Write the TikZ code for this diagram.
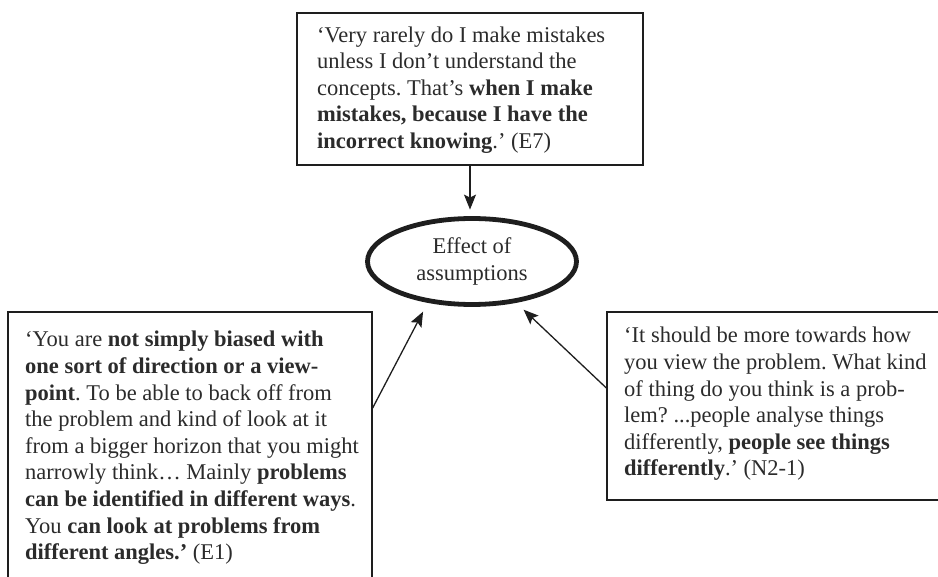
\documentclass[tikz,border=0pt]{standalone}
\usepackage{fontspec}
\setmainfont{Liberation Serif}
\usetikzlibrary{arrows.meta,shapes.geometric}
\definecolor{linec}{HTML}{1E1E1E}
\definecolor{textc}{HTML}{2B2B2B}
\frenchspacing
\begin{document}
\begin{tikzpicture}[x=1pt,y=-1pt,
  qbox/.style={draw=linec, line width=1.3pt, rectangle, inner sep=0pt},
  quote/.style={font=\fontsize{22.5}{26.6}\selectfont\frenchspacing, text=textc, align=left, inner sep=0pt, anchor=west},
  arr/.style={draw=linec, line width=1.3pt, -{Stealth[length=15pt,width=12pt,inset=3pt]}}]
\useasboundingbox (0,0) rectangle (938,577);
\clip (0,0) rectangle (938,577);
% top box
\node[qbox, minimum width=346pt, minimum height=152pt] (tbox) at (470,89) {};
\node[quote] (ttext) at (317,90) {‘Very rarely do I make mistakes\\unless I don’t understand the\\concepts. That’s \textbf{when I make}\\\textbf{mistakes, because I have the}\\\textbf{incorrect knowing}.’ (E7)};
% left box (cut off at the bottom)
\node[qbox, minimum width=364pt, minimum height=300pt] (lbox) at (190,462) {};
\node[quote] (ltext) at (25,448) {‘You are \textbf{not simply biased with}\\
\textbf{one sort of direction or a view-}\\
\textbf{point}. To be able to back off from\\
the problem and kind of look at it\\
from a bigger horizon that you might\\
narrowly think… Mainly \textbf{problems}\\
\textbf{can be identified in different ways}.\\
You \textbf{can look at problems from}\\
\textbf{different angles.’} (E1)};
% right box (cut off at the right)
\node[qbox, minimum width=353pt, minimum height=188pt] (rbox) at (783.5,406) {};
\node[quote] (rtext) at (624,404) {‘It should be more towards how\\
you view the problem. What kind\\
of thing do you think is a prob-\\
lem? ...people analyse things\\
differently, \textbf{people see things}\\
\textbf{differently}.’ (N2-1)};
% central ellipse
\node[ellipse, draw=linec, line width=4.8pt, minimum width=209pt, minimum height=86pt, inner sep=0pt,
  align=center, text=textc, font=\fontsize{22.5}{26.6}\selectfont] (ell) at (472,261.5) {Effect of\\assumptions};
% connectors
\draw[arr, shorten >=6.5pt] (tbox.south) -- (tbox.south |- ell.north);
\draw[arr, shorten >=10pt] ([yshift=54pt]lbox.east) -- (ell.223);
\draw[arr, shorten >=10pt] ([yshift=18pt]rbox.west) -- (ell.-43);
\end{tikzpicture}
\end{document}
